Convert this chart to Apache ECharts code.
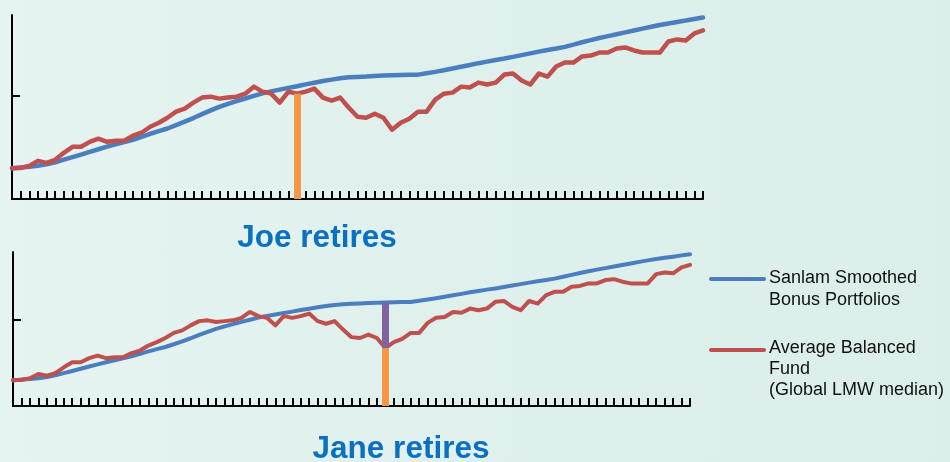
<!DOCTYPE html>
<html>
<head>
<meta charset="utf-8">
<script src="https://cdn.jsdelivr.net/npm/echarts@6/dist/echarts.min.js"></script>
<style>
  html, body { margin: 0; padding: 0; }
  #chart {
    width: 950px;
    height: 462px;
    background: linear-gradient(90deg, #e6f4f1 0%, #e0f1ed 40%, #dbeee9 100%);
  }
</style>
</head>
<body>
<div id="chart"></div>
<script>
// unlabeled periods along the x axis
const periods = Array.from({ length: 81 }, (_, i) => String(i + 1))

const smoothedBonus = [
  29.6, 30.5, 31.1, 32.2, 33.5, 35.5, 38.0, 40.5, 43.0, 45.6,
  48.1, 50.6, 52.8, 55.0, 57.3, 60.2, 63.1, 65.7, 68.2, 71.4,
  74.8, 78.3, 82.1, 85.7, 89.1, 92.1, 94.7, 97.2, 99.7, 102.2,
  104.1, 105.8, 107.5, 109.1, 110.9, 112.5, 114.2, 115.5, 116.8, 117.7,
  118.1, 118.5, 119.1, 119.4, 119.7, 119.9, 120.1, 120.3, 121.6, 123.0,
  124.5, 126.2, 128.0, 129.6, 131.4, 132.9, 134.5, 135.9, 137.5, 139.2,
  140.9, 142.6, 144.2, 145.6, 147.2, 149.3, 151.6, 153.7, 155.8, 157.6,
  159.4, 161.2, 163.0, 164.8, 166.6, 168.3, 169.8, 171.3, 172.6, 174.1,
  175.5
]

const balancedFund = [
  30.0, 30.1, 32.0, 36.9, 35.0, 37.9, 44.7, 50.5, 50.5, 55.3,
  58.3, 55.3, 56.3, 56.3, 61.2, 64.1, 69.9, 73.8, 78.6, 84.5,
  87.4, 93.2, 98.1, 99.0, 97.1, 98.1, 99.0, 101.9, 108.7, 103.9,
  101.9, 93.2, 103.9, 101.9, 103.9, 106.8, 98.1, 95.1, 98.1, 88.3,
  79.6, 78.6, 82.5, 78.6, 67.0, 73.8, 77.7, 84.5, 84.5, 96.1,
  101.9, 102.9, 108.7, 107.8, 112.6, 110.7, 112.6, 120.4, 121.4, 114.6,
  110.7, 121.4, 118.4, 128.2, 132.0, 132.0, 137.9, 138.8, 141.7, 141.7,
  145.6, 146.6, 143.7, 141.7, 141.7, 141.7, 152.4, 154.4, 153.4, 160.2,
  163.1
]

const joeRetires = 33
const janeRetires = 44
const yTicks = [100]

const BLUE = '#4a7ebf'
const RED = '#c0504d'
const ORANGE = '#f79646'
const PURPLE = '#8064a2'
const TITLE = '#0a70c2'
const FONT = '"Liberation Sans", Arial, sans-serif'

const chart = echarts.init(document.getElementById('chart'))

const xAxisBase = (gridIndex) => ({
  type: 'category',
  gridIndex,
  data: periods,
  boundaryGap: false,
  axisLine: { lineStyle: { color: '#000', width: 2 } },
  axisTick: { show: true, inside: true, length: 8, interval: 0, lineStyle: { color: '#000', width: 2 } },
  axisLabel: { show: false },
  splitLine: { show: false },
})

const yAxisBase = (gridIndex) => ({
  type: 'value',
  gridIndex,
  min: 0,
  max: 178,
  axisLine: { show: true, lineStyle: { color: '#000', width: 2 } },
  axisTick: { show: true, inside: true, length: 8, customValues: yTicks, lineStyle: { color: '#000', width: 2 } },
  axisLabel: { show: false },
  splitLine: { show: false },
})

const lineSeries = (idx, data, color, width) => ({
  type: 'line',
  xAxisIndex: idx,
  yAxisIndex: idx,
  data,
  symbol: 'none',
  smooth: false,
  z: 3,
  lineStyle: { color, width, cap: 'round', join: 'round' },
  itemStyle: { color },
})

const barLine = (at, from, to, color) => [
  { coord: [periods[at], from], lineStyle: { color, width: 7, type: 'solid' } },
  { coord: [periods[at], to] },
]

const option = {
  animation: false,
  backgroundColor: 'transparent',
  grid: [
    { left: 12, top: 15, width: 691, height: 184 },
    { left: 13, top: 252, width: 677, height: 154 },
  ],
  xAxis: [xAxisBase(0), xAxisBase(1)],
  yAxis: [yAxisBase(0), yAxisBase(1)],
  series: [
    {
      type: 'line', xAxisIndex: 0, yAxisIndex: 0, data: [], z: 1,
      markLine: {
        silent: true, symbol: ['none', 'none'], label: { show: false },
        data: [barLine(joeRetires, 0, balancedFund[joeRetires], ORANGE)],
      },
    },
    lineSeries(0, smoothedBonus, BLUE, 4.5),
    lineSeries(0, balancedFund, RED, 4.5),
    {
      type: 'line', xAxisIndex: 1, yAxisIndex: 1, data: [], z: 1,
      markLine: {
        silent: true, symbol: ['none', 'none'], label: { show: false },
        data: [
          barLine(janeRetires, 0, balancedFund[janeRetires], ORANGE),
          barLine(janeRetires, balancedFund[janeRetires], smoothedBonus[janeRetires], PURPLE),
        ],
      },
    },
    lineSeries(1, smoothedBonus, BLUE, 4),
    lineSeries(1, balancedFund, RED, 4),
  ],
  graphic: [
    {
      type: 'text', x: 317, y: 238,
      style: { text: 'Joe retires', font: 'bold 31.5px ' + FONT, fill: TITLE, align: 'center', verticalAlign: 'middle' },
    },
    {
      type: 'text', x: 401, y: 449,
      style: { text: 'Jane retires', font: 'bold 31.5px ' + FONT, fill: TITLE, align: 'center', verticalAlign: 'middle' },
    },
    {
      type: 'line', shape: { x1: 711, y1: 279, x2: 764, y2: 279 },
      style: { stroke: BLUE, lineWidth: 4, lineCap: 'round' },
    },
    {
      type: 'text', x: 769, y: 267,
      style: { text: 'Sanlam Smoothed\nBonus Portfolios', font: '18px ' + FONT, lineHeight: 22, fill: '#111', verticalAlign: 'top' },
    },
    {
      type: 'line', shape: { x1: 711, y1: 350, x2: 764, y2: 350 },
      style: { stroke: RED, lineWidth: 4, lineCap: 'round' },
    },
    {
      type: 'text', x: 769, y: 338,
      style: { text: 'Average Balanced\nFund\n(Global LMW median)', font: '18px ' + FONT, lineHeight: 21, fill: '#111', verticalAlign: 'top' },
    },
  ],
}

chart.setOption(option)
</script>
</body>
</html>
